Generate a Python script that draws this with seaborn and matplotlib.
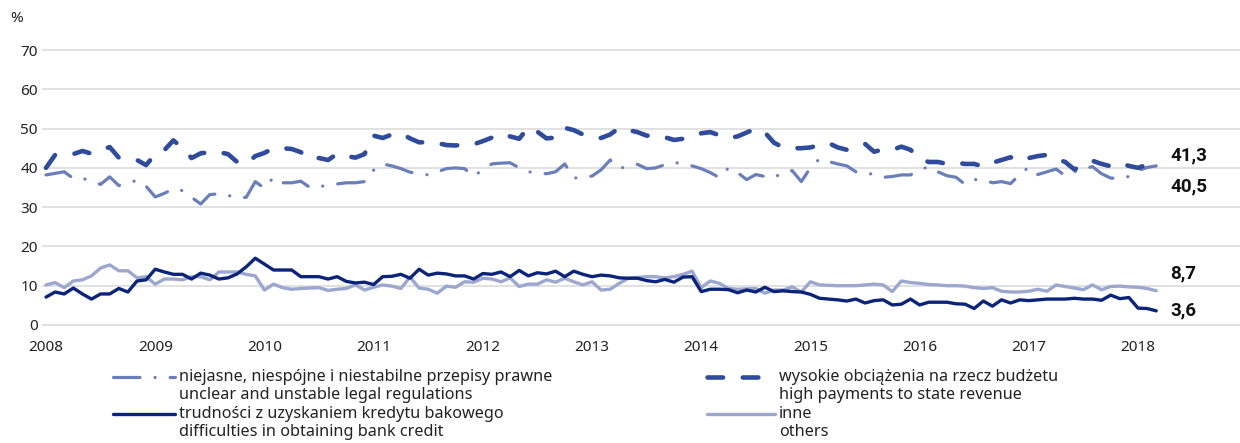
import numpy as np
import seaborn as sns
import matplotlib.pyplot as plt
from matplotlib.lines import Line2D

# monthly survey shares (%), Jan 2008 - Mar 2018
start_year = 2008

unclear = [
    38.2, 38.6, 39.0, 37.3, 37.4, 36.5, 35.8, 37.7, 35.5, 36.0, 36.9, 35.3,
    32.6, 33.5, 34.7, 34.2, 32.5, 30.8, 33.2, 33.4, 33.0, 32.4, 32.5, 36.5,
    34.8, 37.6, 36.2, 36.2, 36.6, 35.0, 35.2, 35.6, 35.9, 36.2, 36.2, 36.5,
    39.4, 41.0, 40.5, 39.8, 38.9, 38.6, 38.2, 39.0, 39.8, 40.0, 39.8, 37.8,
    39.6, 41.0, 41.2, 41.3, 40.0, 39.0, 38.8, 38.5, 39.0, 41.0, 37.4, 37.6,
    37.9, 39.5, 42.0, 39.8, 40.5, 40.9, 39.8, 40.0, 40.8, 41.3, 41.2, 40.5,
    39.8, 38.8, 37.5, 40.0, 38.8, 37.0, 38.3, 37.8, 37.5, 38.9, 39.3, 36.5,
    40.0, 42.3, 41.6, 41.0, 40.5, 39.0, 38.9, 38.2, 37.6, 37.8, 38.2, 38.2,
    39.5, 40.3, 39.0, 38.0, 37.6, 35.8, 37.0, 37.0, 36.2, 36.5, 36.0, 38.3,
    40.2, 38.3, 39.0, 39.7, 38.0, 39.0, 39.8, 40.3, 38.5, 37.4, 37.3, 37.8,
    39.3, 40.1, 40.5,
]

payments = [
    40.0, 43.3, 43.4, 43.5, 44.3, 43.6, 44.5, 45.3, 42.6, 42.3, 42.0, 40.7,
    43.5, 44.5, 47.0, 45.0, 42.5, 43.7, 44.0, 44.0, 43.5, 41.5, 41.0, 43.0,
    43.8, 45.0, 45.0, 44.8, 44.0, 42.2, 42.5, 42.0, 43.6, 43.0, 42.6, 43.5,
    48.2, 47.6, 48.5, 48.8, 47.5, 46.5, 46.5, 46.3, 45.8, 45.7, 45.9, 46.0,
    46.8, 47.7, 48.7, 48.0, 47.4, 50.3, 49.2, 47.5, 47.7, 50.2, 49.6, 48.5,
    47.9, 47.6, 48.5, 50.2, 49.6, 49.1, 48.2, 48.3, 47.8, 47.1, 47.4, 47.8,
    48.8, 49.1, 48.3, 47.6, 48.0, 49.0, 50.0, 49.0, 46.4, 45.2, 45.0, 45.0,
    45.2, 45.8, 46.3, 45.2, 44.6, 45.4, 46.1, 44.1, 44.7, 44.6, 45.4, 44.6,
    42.3, 41.5, 41.5, 41.0, 41.3, 41.0, 41.0, 40.3, 41.3, 42.0, 42.7, 41.7,
    42.5, 43.0, 43.3, 42.3, 41.5, 39.6, 40.6, 41.8, 41.0, 40.4, 41.2, 40.5,
    40.0, 40.8, 41.3,
]

bank_credit = [
    7.1, 8.4, 7.9, 9.4, 7.9, 6.6, 7.9, 7.9, 9.3, 8.4, 11.2, 11.5,
    14.2, 13.5, 12.9, 12.9, 11.7, 13.2, 12.7, 11.7, 12.0, 13.0, 14.8, 17.0,
    15.5, 14.0, 14.0, 14.0, 12.3, 12.3, 12.3, 11.7, 12.3, 11.1, 10.7, 10.9,
    10.3, 12.3, 12.4, 12.9, 11.9, 14.2, 12.7, 13.2, 13.0, 12.5, 12.5, 11.7,
    13.1, 12.9, 13.5, 12.3, 13.9, 12.5, 13.3, 13.0, 13.7, 12.3, 13.7, 12.9,
    12.3, 12.7, 12.5, 12.0, 11.9, 11.9, 11.3, 11.0, 11.6, 10.9, 12.2, 12.3,
    8.5, 9.1, 9.1, 9.0, 8.2, 8.9, 8.4, 9.6, 8.5, 8.7, 8.5, 8.4,
    7.8, 6.8, 6.6, 6.4, 6.1, 6.6, 5.6, 6.2, 6.4, 5.1, 5.3, 6.6,
    5.1, 5.8, 5.8, 5.8, 5.4, 5.3, 4.2, 6.1, 4.8, 6.4, 5.6, 6.4,
    6.2, 6.4, 6.6, 6.6, 6.6, 6.8, 6.6, 6.6, 6.3, 7.6, 6.7, 7.0,
    4.3, 4.2, 3.6,
]

others = [
    10.2, 10.8, 9.5, 11.2, 11.5, 12.5, 14.5, 15.3, 13.8, 13.8, 12.0, 12.3,
    10.4, 11.7, 11.7, 11.5, 12.3, 12.3, 11.5, 13.5, 13.5, 13.5, 12.9, 12.5,
    8.9, 10.4, 9.5, 9.1, 9.3, 9.4, 9.5, 8.8, 9.1, 9.3, 10.2, 8.9,
    9.6, 10.2, 9.9, 9.3, 12.2, 9.4, 9.1, 8.1, 9.9, 9.6, 11.0, 10.9,
    11.9, 11.7, 11.0, 12.0, 9.8, 10.4, 10.4, 11.5, 10.9, 11.9, 11.0, 10.2,
    11.0, 8.9, 9.1, 10.6, 11.9, 12.1, 12.3, 12.3, 12.0, 12.3, 12.9, 13.7,
    9.5, 11.2, 10.6, 9.3, 9.1, 9.2, 9.3, 8.1, 8.9, 8.9, 9.7, 8.4,
    11.0, 10.2, 10.1, 10.0, 10.0, 10.0, 10.2, 10.4, 10.2, 8.5, 11.2, 10.8,
    10.6, 10.3, 10.2, 10.0, 10.0, 9.9, 9.5, 9.3, 9.5, 8.6, 8.4, 8.4,
    8.6, 9.1, 8.6, 10.2, 9.8, 9.4, 9.0, 10.2, 9.0, 9.8, 9.9, 9.7,
    9.6, 9.3, 8.7,
]

years = list(range(2008, 2019))

labels_pl = ["niejasne, niespójne i niestabilne przepisy prawne",
             "wysokie obciążenia na rzecz budżetu",
             "trudności z uzyskaniem kredytu bakowego",
             "inne"]
labels_en = ["unclear and unstable legal regulations",
             "high payments to state revenue",
             "difficulties in obtaining bank credit",
             "others"]

sns.set_theme(style="white")
plt.rcParams['font.family'] = ['Noto Sans', 'DejaVu Sans']

t = start_year + np.arange(len(payments)) / 12

W, H = 1240, 443
fig = plt.figure(figsize=(W / 100, H / 100), dpi=100)
pxu = 275 / 70  # pixels per percentage point
ax = fig.add_axes([42 / W, 1 - (325 + pxu) / H, 1 - 42 / W, (275 + 1.5 * pxu) / H])

c_unclear, c_pay, c_bank, c_oth = "#6A7EBB", "#2F4B9B", "#0B2479", "#9BA7CF"
ls_unclear = (0, (8.3, 4.7, 0.05, 4.7))
ls_pay = (0, (3.4, 4.3))

sns.lineplot(x=t, y=others, ax=ax, color=c_oth, linewidth=2.4)
sns.lineplot(x=t, y=bank_credit, ax=ax, color=c_bank, linewidth=2.4)
sns.lineplot(x=t, y=unclear, ax=ax, color=c_unclear, linewidth=2.3,
             linestyle=ls_unclear, dash_capstyle="round")
sns.lineplot(x=t, y=payments, ax=ax, color=c_pay, linewidth=3.3,
             linestyle=ls_pay, dash_capstyle="round")

ax.set_ylim(-1, 70.5)
ax.set_yticks(range(0, 71, 10))
ax.set_xlim(2008 - 4 / 109.2, 2008 + 1194 / 109.2)
ax.set_xticks(years)
ax.set_xticklabels([str(y) for y in years])
ax.grid(axis="y", color="#D9D9D9", linewidth=1.1)
ax.grid(axis="x", visible=False)
for s in ax.spines.values():
    s.set_visible(False)
ax.tick_params(axis="both", length=0, labelsize=11, colors="#222222")
ax.tick_params(axis="x", pad=8)
ax.tick_params(axis="y", pad=3)
ax.set_xlabel("")
ax.set_ylabel("")

fig.text(10 / W, 1 - 18 / H, "%", fontsize=11, color="#222222", va="center")

# end-of-series value labels
for vals, dy in [(payments, 5.5), (unclear, -15), (others, 12.8), (bank_credit, 0)]:
    ax.annotate(f"{vals[-1]:.1f}".replace(".", ","), xy=(t[-1], vals[-1]),
                xytext=(10, dy), textcoords="offset points",
                fontsize=13.5, fontweight="bold", family=["Roboto", "DejaVu Sans"],
                color="#111111", va="center")

# legend, laid out as in the source
entries = [
    (113, 175, 377, c_unclear, 2.3, ls_unclear, labels_pl[0], labels_en[0]),
    (707, 775, 377, c_pay, 3.3, ls_pay, labels_pl[1], labels_en[1]),
    (113, 175, 414, c_bank, 2.4, "-", labels_pl[2], labels_en[2]),
    (707, 775, 414, c_oth, 2.4, "-", labels_pl[3], labels_en[3]),
]
for x0, x1, y0, c, lw, ls, l1, l2 in entries:
    fig.add_artist(Line2D([x0 / W, x1 / W], [1 - y0 / H, 1 - y0 / H],
                          color=c, linewidth=lw, linestyle=ls,
                          dash_capstyle="round", transform=fig.transFigure))
    fig.text((x1 + 4) / W, 1 - y0 / H, l1, fontsize=11.7, color="#222222", va="center")
    fig.text((x1 + 4) / W, 1 - (y0 + 18) / H, l2, fontsize=11.7, color="#222222", va="center")

fig.savefig("out.png", dpi=100)
